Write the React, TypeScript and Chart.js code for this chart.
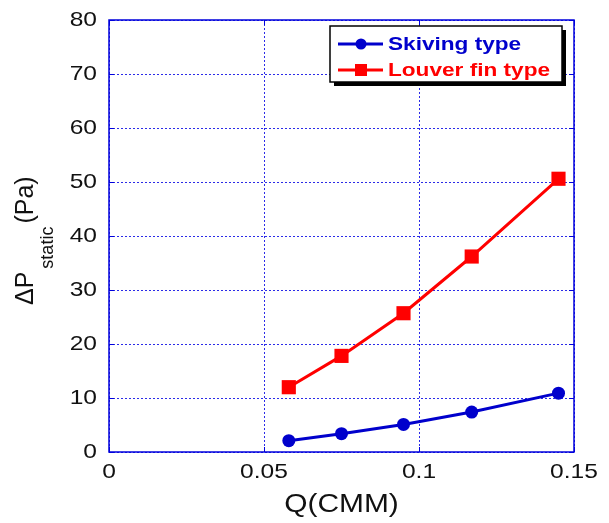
import React, { useEffect, useRef } from "react";
import { Chart, registerables } from "chart.js";

Chart.register(...registerables);

const flowRates = [0.058, 0.075, 0.095, 0.117, 0.145];
const skivingValues = [2.1, 3.4, 5.1, 7.4, 10.9];
const louverValues = [12.0, 17.8, 25.7, 36.2, 50.6];
const xTicks = [0, 0.05, 0.1, 0.15];
const xTickLabels = ["0", "0.05", "0.1", "0.15"];
const yTicks = [0, 10, 20, 30, 40, 50, 60, 70, 80];
const seriesNames = ["Skiving type", "Louver fin type"];

const FONT = '"Liberation Sans", Arial, sans-serif';
const BLUE = "rgb(0,0,204)";
const RED = "rgb(255,0,0)";
const AXIS = "rgb(0,0,220)";

function drawText(
  ctx: CanvasRenderingContext2D,
  text: string,
  x: number,
  y: number,
  font: string,
  color: string,
  align: "left" | "center" | "right",
  stretch: number
) {
  ctx.save();
  ctx.font = font;
  const w = ctx.measureText(text).width * stretch;
  const left = align === "center" ? x - w / 2 : align === "right" ? x - w : x;
  ctx.translate(left, y);
  ctx.scale(stretch, 1);
  ctx.textAlign = "left";
  ctx.textBaseline = "middle";
  ctx.fillStyle = color;
  ctx.fillText(text, 0, 0);
  ctx.restore();
}

const decorPlugin = {
  id: "decor",
  beforeDatasetsDraw(chart: any) {
    const ctx: CanvasRenderingContext2D = chart.ctx;
    const xs = chart.scales.x;
    const ys = chart.scales.y;
    const a = chart.chartArea;
    ctx.save();
    ctx.strokeStyle = "rgba(20,20,230,0.9)";
    ctx.lineWidth = 1;
    ctx.setLineDash([2, 2]);
    for (const t of xTicks) {
      const px = Math.round(xs.getPixelForValue(t)) + 0.5;
      ctx.beginPath();
      ctx.moveTo(px, a.top);
      ctx.lineTo(px, a.bottom);
      ctx.stroke();
    }
    for (const t of yTicks) {
      const py = Math.round(ys.getPixelForValue(t)) + 0.5;
      ctx.beginPath();
      ctx.moveTo(a.left, py);
      ctx.lineTo(a.right, py);
      ctx.stroke();
    }
    ctx.setLineDash([]);
    ctx.strokeStyle = AXIS;
    ctx.lineWidth = 1;
    for (const t of xTicks) {
      const px = Math.round(xs.getPixelForValue(t)) + 0.5;
      ctx.beginPath();
      ctx.moveTo(px, a.bottom);
      ctx.lineTo(px, a.bottom - 5);
      ctx.moveTo(px, a.top);
      ctx.lineTo(px, a.top + 5);
      ctx.stroke();
    }
    for (const t of yTicks) {
      const py = Math.round(ys.getPixelForValue(t)) + 0.5;
      ctx.beginPath();
      ctx.moveTo(a.left, py);
      ctx.lineTo(a.left + 5, py);
      ctx.moveTo(a.right, py);
      ctx.lineTo(a.right - 5, py);
      ctx.stroke();
    }
    ctx.lineWidth = 1.5;
    ctx.strokeRect(a.left, a.top, a.right - a.left, a.bottom - a.top);
    ctx.restore();

    const tickFont = `21px ${FONT}`;
    xTicks.forEach((t, i) => {
      drawText(ctx, xTickLabels[i], xs.getPixelForValue(t), a.bottom + 20, tickFont, "#111", "center", 1.17);
    });
    yTicks.forEach((t) => {
      drawText(ctx, String(t), a.left - 12, ys.getPixelForValue(t), tickFont, "#111", "right", 1.17);
    });

    drawText(ctx, "Q(CMM)", (a.left + a.right) / 2, 505, `26px ${FONT}`, "#111", "center", 1.15);

    ctx.save();
    ctx.translate(33, 305);
    ctx.rotate(-Math.PI / 2);
    ctx.fillStyle = "#111";
    ctx.textAlign = "left";
    ctx.textBaseline = "alphabetic";
    ctx.font = `25px ${FONT}`;
    const main = "\u0394P";
    ctx.fillText(main, 0, 0);
    const w1 = ctx.measureText(main).width;
    ctx.font = `18px ${FONT}`;
    const sub = "static";
    ctx.fillText(sub, w1 + 3, 20);
    const w2 = ctx.measureText(sub).width;
    ctx.font = `25px ${FONT}`;
    ctx.fillText("(Pa)", w1 + 3 + w2 + 3, 0);
    ctx.restore();
  },
  afterDatasetsDraw(chart: any) {
    const ctx: CanvasRenderingContext2D = chart.ctx;
    const bx = 330, by = 26, bw = 232, bh = 56;
    ctx.save();
    ctx.fillStyle = "#000";
    ctx.fillRect(bx + 4, by + 4, bw, bh);
    ctx.fillStyle = "#fff";
    ctx.fillRect(bx, by, bw, bh);
    ctx.strokeStyle = "#000";
    ctx.lineWidth = 1.5;
    ctx.strokeRect(bx, by, bw, bh);
    const rows = [
      { y: 44, color: BLUE, shape: "circle" },
      { y: 70, color: RED, shape: "rect" },
    ];
    rows.forEach((r, i) => {
      ctx.strokeStyle = r.color;
      ctx.fillStyle = r.color;
      ctx.lineWidth = 3;
      ctx.beginPath();
      ctx.moveTo(338, r.y);
      ctx.lineTo(383, r.y);
      ctx.stroke();
      if (r.shape === "circle") {
        ctx.beginPath();
        ctx.arc(361, r.y, 5.5, 0, Math.PI * 2);
        ctx.fill();
      } else {
        ctx.fillRect(361 - 6, r.y - 6, 12, 12);
      }
      drawText(ctx, seriesNames[i], 388, r.y + 1, `bold 19px ${FONT}`, r.color, "left", 1.19);
    });
    ctx.restore();
  },
};

export default function App() {
  const ref = useRef<HTMLCanvasElement | null>(null);
  useEffect(() => {
    if (!ref.current) return;
    const chart = new Chart(ref.current, {
      type: "line",
      data: {
        datasets: [
          {
            label: seriesNames[0],
            data: flowRates.map((x, i) => ({ x, y: skivingValues[i] })),
            borderColor: BLUE,
            backgroundColor: BLUE,
            borderWidth: 3,
            pointStyle: "circle",
            pointRadius: 6.5,
            pointBorderWidth: 0,
            clip: false as any,
          },
          {
            label: seriesNames[1],
            data: flowRates.map((x, i) => ({ x, y: louverValues[i] })),
            borderColor: RED,
            backgroundColor: RED,
            borderWidth: 3,
            pointStyle: "rect",
            pointRadius: 10,
            pointBorderWidth: 0,
            clip: false as any,
          },
        ],
      },
      options: {
        animation: false,
        responsive: false,
        maintainAspectRatio: false,
        layout: { padding: { left: 0, top: 20, right: 35, bottom: 0 } },
        plugins: { legend: { display: false }, tooltip: { enabled: false } },
        scales: {
          x: {
            type: "linear",
            min: 0,
            max: 0.15,
            ticks: { display: false, stepSize: 0.05 },
            grid: { display: false },
            border: { display: false },
            afterFit: (s: any) => {
              s.height = 71;
            },
          },
          y: {
            type: "linear",
            min: 0,
            max: 80,
            ticks: { display: false, stepSize: 10 },
            grid: { display: false },
            border: { display: false },
            afterFit: (s: any) => {
              s.width = 109;
            },
          },
        },
      },
      plugins: [decorPlugin],
    });
    return () => chart.destroy();
  }, []);
  return (
    <div style={{ position: "absolute", left: 0, top: 0, width: 609, height: 523, background: "#fff" }}>
      <canvas ref={ref} width={609} height={523} style={{ width: 609, height: 523 }} />
    </div>
  );
}
